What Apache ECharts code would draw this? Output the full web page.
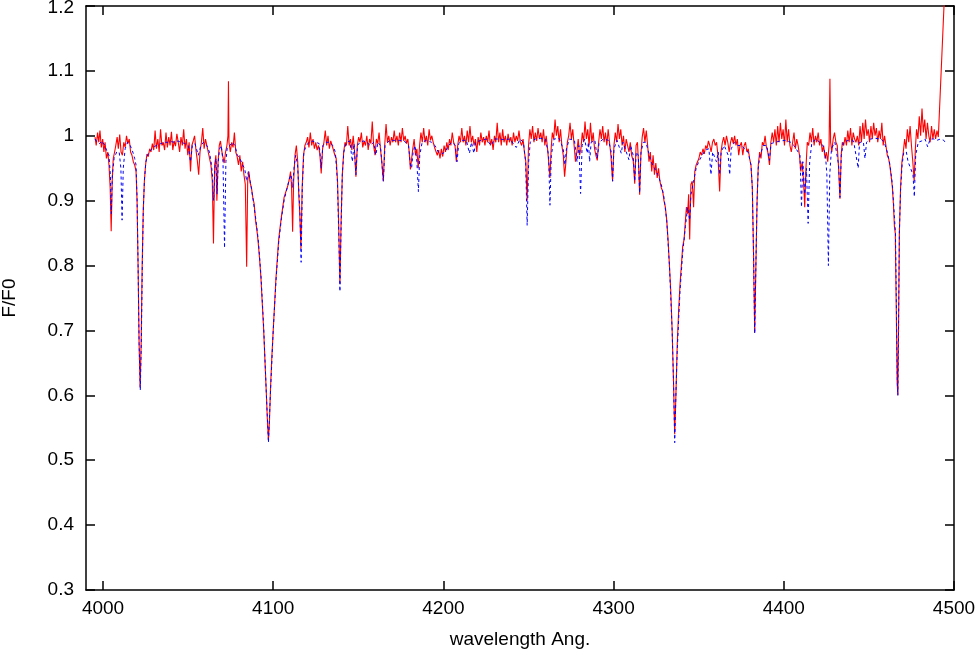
<!DOCTYPE html>
<html>
<head>
<meta charset="utf-8">
<script src="https://cdn.jsdelivr.net/npm/echarts@6/dist/echarts.min.js"></script>
<style>
  html, body { margin: 0; padding: 0; background: #fff; }
  #chart { width: 978px; height: 650px; }
</style>
</head>
<body>
<div id="chart"></div>
<script>
// 观测光谱 (红色实线) [wavelength, F/F0]
var observed = [
  [3995.3, 0.998], [3996, 0.985], [3996.8, 1.005], [3997.5, 0.99], [3998.2, 1.008], [3999, 0.982], [3999.8, 0.995],
  [4000.5, 0.975], [4001.2, 0.99], [4002, 0.965], [4002.8, 0.975], [4003.5, 0.955], [4004.2, 0.92], [4004.8, 0.853],
  [4005.4, 0.93], [4006, 0.965], [4006.8, 0.975], [4007.5, 0.985], [4008.3, 0.998], [4009, 0.98], [4009.8, 1.002],
  [4010.6, 0.975], [4011.4, 0.97], [4012.2, 0.99], [4013, 0.982], [4013.8, 1.0], [4014.6, 0.988], [4015.4, 0.995],
  [4016.2, 0.975], [4017, 0.97], [4017.8, 0.96], [4018.6, 0.955], [4019.4, 0.945], [4020, 0.9], [4020.6, 0.8],
  [4021.2, 0.68], [4021.8, 0.612], [4022.4, 0.68], [4023, 0.8], [4023.6, 0.88], [4024.3, 0.93], [4025, 0.955],
  [4025.8, 0.972], [4026.6, 0.968], [4027.4, 0.98], [4028.2, 0.975], [4029, 0.988], [4029.8, 0.978], [4030.6, 1.008],
  [4031.4, 0.98], [4032.2, 0.995], [4033, 0.975], [4033.8, 1.01], [4034.6, 0.985], [4035.4, 0.99], [4036.2, 0.978],
  [4037, 1.005], [4037.8, 0.982], [4038.6, 0.998], [4039.4, 0.985], [4040.2, 1.006], [4041, 0.978], [4041.8, 0.992],
  [4042.6, 0.984], [4043.4, 1.003], [4044.2, 0.99], [4045, 0.975], [4045.8, 0.998], [4046.6, 0.985], [4047.4, 1.01],
  [4048.2, 0.98], [4049, 0.995], [4049.8, 0.97], [4050.6, 0.99], [4051.4, 0.945], [4052.2, 0.985], [4053, 0.992],
  [4053.8, 1.0], [4054.6, 0.978], [4055.4, 0.962], [4056.2, 0.94], [4057, 0.975], [4057.8, 0.99], [4058.6, 1.012],
  [4059.4, 0.98], [4060.2, 0.995], [4061, 0.985], [4061.8, 0.975], [4062.6, 0.965], [4063.4, 0.955], [4064.2, 0.93],
  [4064.9, 0.834], [4065.6, 0.955], [4066.3, 0.97], [4066.9, 0.9], [4067.6, 0.96], [4068.3, 0.985], [4069, 0.992],
  [4069.7, 0.978], [4070.4, 0.968], [4071.2, 0.958], [4072, 0.975], [4072.8, 0.985], [4073.4, 1.0], [4073.7, 1.084],
  [4074, 0.99], [4074.8, 0.975], [4075.6, 0.99], [4076.4, 0.982], [4077.2, 1.005], [4078, 0.975], [4078.8, 0.968],
  [4079.6, 0.955], [4080.4, 0.97], [4081.2, 0.945], [4082, 0.96], [4082.8, 0.94], [4083.6, 0.925], [4084.4, 0.798],
  [4085, 0.93], [4085.7, 0.945], [4086.4, 0.928], [4087.2, 0.92], [4088, 0.905], [4088.8, 0.895], [4089.6, 0.87],
  [4090.4, 0.855], [4091.2, 0.835], [4092, 0.81], [4092.8, 0.78], [4093.6, 0.74], [4094.4, 0.7], [4095.2, 0.65],
  [4096, 0.6], [4096.6, 0.56], [4097.2, 0.531], [4097.8, 0.56], [4098.4, 0.61], [4099.2, 0.66], [4100, 0.7],
  [4100.8, 0.74], [4101.6, 0.78], [4102.4, 0.81], [4103.2, 0.84], [4104, 0.858], [4104.8, 0.875], [4105.6, 0.89],
  [4106.4, 0.905], [4107.2, 0.912], [4108, 0.918], [4108.8, 0.925], [4109.6, 0.935], [4110.2, 0.945], [4110.8, 0.92],
  [4111.4, 0.852], [4112, 0.93], [4112.8, 0.97], [4113.6, 0.985], [4114.4, 0.96], [4115, 0.91], [4115.6, 0.88],
  [4116.3, 0.826], [4117, 0.92], [4117.8, 0.97], [4118.6, 0.985], [4119.4, 0.99], [4120.2, 0.998], [4121, 0.982],
  [4121.8, 1.005], [4122.6, 0.985], [4123.4, 0.995], [4124.2, 0.98], [4125, 0.99], [4125.8, 0.978], [4126.6, 0.985],
  [4127.4, 0.972], [4128.2, 0.942], [4129, 0.98], [4129.8, 0.99], [4130.6, 1.008], [4131.4, 0.985], [4132.2, 1.0],
  [4133, 0.98], [4133.8, 0.992], [4134.6, 0.985], [4135.4, 0.978], [4136.2, 0.97], [4137, 0.965], [4137.8, 0.93],
  [4138.5, 0.86], [4139.2, 0.772], [4139.9, 0.87], [4140.6, 0.94], [4141.4, 0.975], [4142.2, 0.99], [4143, 0.985],
  [4143.8, 1.015], [4144.6, 0.985], [4145.4, 0.995], [4146.2, 0.978], [4147, 1.0], [4147.8, 0.975], [4148.6, 0.937],
  [4149.4, 0.985], [4150.2, 0.998], [4151, 0.99], [4151.8, 1.005], [4152.6, 0.982], [4153.4, 0.992], [4154.2, 0.985],
  [4155, 1.0], [4155.8, 0.978], [4156.6, 0.995], [4157.4, 0.988], [4158.2, 1.022], [4159, 0.985], [4159.8, 0.97],
  [4160.6, 0.995], [4161.4, 0.988], [4162.2, 1.005], [4163, 0.98], [4163.8, 0.96], [4164.7, 0.93], [4165.5, 0.985],
  [4166.3, 1.018], [4167.1, 0.99], [4167.9, 1.0], [4168.7, 0.985], [4169.5, 0.998], [4170.3, 0.99], [4171.1, 1.008],
  [4171.9, 0.99], [4172.7, 1.0], [4173.5, 0.985], [4174.3, 1.005], [4175.1, 0.99], [4175.9, 1.012], [4176.7, 0.992],
  [4177.5, 1.0], [4178.3, 0.988], [4179.1, 0.995], [4179.9, 0.975], [4180.6, 0.948], [4181.3, 0.945], [4182, 0.98],
  [4182.8, 0.995], [4183.6, 0.97], [4184.4, 0.98], [4185.2, 0.95], [4186, 0.985], [4186.8, 1.005], [4187.6, 0.99],
  [4188.4, 1.012], [4189.2, 0.99], [4190, 1.0], [4190.8, 0.985], [4191.6, 1.01], [4192.4, 0.993], [4193.2, 1.0],
  [4194, 0.99], [4194.8, 0.982], [4195.6, 0.985], [4196.4, 0.97], [4197.2, 0.978], [4198, 0.965], [4198.8, 0.98],
  [4199.6, 0.968], [4200.4, 0.985], [4201.2, 0.975], [4202, 0.99], [4202.8, 0.978], [4203.6, 0.995], [4204.4, 0.985],
  [4205.2, 1.005], [4206, 0.99], [4206.8, 0.985], [4207.6, 0.96], [4208.4, 0.985], [4209.2, 1.0], [4210, 0.99],
  [4210.8, 1.012], [4211.6, 0.99], [4212.4, 1.0], [4213.2, 0.985], [4214, 1.008], [4214.8, 0.99], [4215.6, 1.015],
  [4216.4, 0.99], [4217.2, 1.0], [4218, 0.985], [4218.8, 0.995], [4219.6, 0.975], [4220.4, 0.998], [4221.2, 0.985],
  [4222, 1.005], [4222.8, 0.99], [4223.6, 0.998], [4224.4, 0.985], [4225.2, 1.0], [4226, 0.99], [4226.8, 1.008],
  [4227.6, 0.985], [4228.4, 0.995], [4229.2, 0.978], [4230, 1.0], [4230.8, 0.99], [4231.6, 1.02], [4232.4, 0.99],
  [4233.2, 1.005], [4234, 0.985], [4234.8, 1.01], [4235.6, 0.99], [4236.4, 1.0], [4237.2, 0.985], [4238, 1.003],
  [4238.8, 0.99], [4239.6, 0.998], [4240.4, 0.985], [4241.2, 1.005], [4242, 0.99], [4242.8, 1.0], [4243.6, 0.992],
  [4244.4, 1.008], [4245.2, 0.99], [4246, 0.985], [4246.8, 0.995], [4247.6, 0.975], [4248.4, 0.96], [4249.2, 0.9],
  [4250, 0.985], [4250.8, 1.01], [4251.6, 0.995], [4252.4, 1.015], [4253.2, 0.99], [4254, 1.005], [4254.8, 0.992],
  [4255.6, 1.012], [4256.4, 0.995], [4257.2, 1.005], [4258, 0.99], [4258.8, 1.01], [4259.6, 0.985], [4260.4, 1.0],
  [4261.2, 0.98], [4262, 0.955], [4262.6, 0.935], [4263.3, 0.98], [4264, 1.005], [4264.8, 0.995], [4265.6, 1.025],
  [4266.4, 1.0], [4267.2, 1.015], [4268, 0.99], [4268.8, 1.01], [4269.6, 0.985], [4270.4, 0.97], [4271.2, 0.937],
  [4272, 0.96], [4272.8, 0.99], [4273.6, 1.0], [4274.4, 1.02], [4275.2, 0.995], [4276, 1.01], [4276.8, 0.985],
  [4277.6, 0.96], [4278.4, 0.975], [4279.2, 0.995], [4280, 0.97], [4280.8, 0.98], [4281.6, 1.005], [4282.4, 0.99],
  [4283.2, 1.022], [4284, 0.995], [4284.8, 1.01], [4285.6, 0.985], [4286.4, 1.02], [4287.2, 0.99], [4288, 1.005],
  [4288.8, 0.98], [4289.6, 0.97], [4290.4, 0.962], [4291.2, 0.99], [4292, 1.01], [4292.8, 0.995], [4293.6, 1.015],
  [4294.4, 0.99], [4295.2, 1.005], [4296, 0.985], [4296.8, 1.01], [4297.6, 0.99], [4298.4, 0.97], [4299.4, 0.93],
  [4300.2, 0.985], [4301, 1.005], [4301.8, 0.99], [4302.6, 1.018], [4303.4, 0.995], [4304.2, 1.01], [4305, 0.985],
  [4305.8, 1.0], [4306.6, 0.975], [4307.4, 0.995], [4308.2, 0.985], [4309, 0.975], [4309.8, 0.99], [4310.6, 0.97],
  [4311.6, 0.96], [4312.4, 0.926], [4313.2, 0.985], [4314, 0.99], [4314.6, 0.96], [4315.3, 0.909], [4316, 0.97],
  [4316.8, 0.998], [4317.6, 1.012], [4318.4, 0.99], [4319.2, 1.008], [4320, 0.985], [4320.8, 0.96], [4321.6, 0.975],
  [4322.4, 0.945], [4323.2, 0.97], [4324, 0.94], [4324.8, 0.958], [4325.6, 0.935], [4326.4, 0.95], [4327.2, 0.93],
  [4328, 0.92], [4328.8, 0.915], [4329.6, 0.9], [4330.4, 0.89], [4331.2, 0.87], [4332, 0.84], [4332.8, 0.8],
  [4333.6, 0.76], [4334.4, 0.7], [4335.2, 0.62], [4335.9, 0.54], [4336.6, 0.6], [4337.4, 0.68], [4338.2, 0.73],
  [4339, 0.77], [4339.8, 0.8], [4340.6, 0.83], [4341.4, 0.84], [4342.2, 0.87], [4342.8, 0.89], [4343.5, 0.88],
  [4344.1, 0.91], [4344.7, 0.84], [4345.4, 0.925], [4346.2, 0.93], [4347, 0.89], [4347.7, 0.945], [4348.5, 0.955],
  [4349.3, 0.96], [4350.1, 0.965], [4350.9, 0.975], [4351.7, 0.97], [4352.5, 0.98], [4353.3, 0.972], [4354.1, 0.985],
  [4354.9, 0.98], [4355.7, 0.992], [4356.5, 0.985], [4357.3, 0.975], [4358.1, 0.99], [4358.9, 0.995], [4359.7, 0.985],
  [4360.5, 0.99], [4361.3, 0.97], [4362.3, 0.914], [4363.1, 0.975], [4363.9, 0.99], [4364.7, 0.998], [4365.5, 0.985],
  [4366.3, 1.0], [4367.1, 0.99], [4367.9, 0.975], [4368.7, 0.99], [4369.5, 0.998], [4370.3, 0.988], [4371.1, 1.0],
  [4371.9, 0.985], [4372.7, 0.995], [4373.5, 0.97], [4374.3, 0.985], [4375.1, 0.99], [4375.9, 0.97], [4376.7, 0.985],
  [4377.5, 0.99], [4378.3, 0.975], [4379.1, 0.98], [4379.9, 0.965], [4380.7, 0.955], [4381.5, 0.92], [4382.2, 0.82],
  [4382.9, 0.697], [4383.6, 0.8], [4384.3, 0.9], [4385, 0.955], [4385.8, 0.975], [4386.6, 0.965], [4387.4, 0.99],
  [4388.2, 0.985], [4389, 1.0], [4389.8, 0.982], [4390.6, 0.975], [4391.6, 0.955], [4392.4, 0.99], [4393.2, 1.005],
  [4394, 0.99], [4394.8, 1.01], [4395.6, 0.985], [4396.4, 1.015], [4397.2, 0.99], [4398, 1.02], [4398.8, 0.995],
  [4399.6, 1.01], [4400.4, 0.985], [4401.2, 1.025], [4402, 0.99], [4402.8, 1.01], [4403.6, 0.985], [4404.4, 0.975],
  [4405.2, 0.99], [4406, 1.005], [4406.8, 0.98], [4407.6, 0.995], [4408.4, 0.985], [4409.2, 0.97], [4410, 0.945],
  [4410.8, 0.96], [4411.6, 0.93], [4412.3, 0.89], [4413, 0.95], [4413.8, 0.99], [4414.6, 0.985], [4415.4, 1.005],
  [4416.2, 0.99], [4417, 1.012], [4417.8, 0.985], [4418.6, 1.0], [4419.4, 0.99], [4420.2, 1.005], [4421, 0.985],
  [4421.8, 0.995], [4422.6, 0.975], [4423.4, 0.985], [4424.2, 0.965], [4425, 0.975], [4425.8, 0.96], [4426.6, 0.985],
  [4427.1, 1.088], [4427.5, 0.99], [4428.2, 0.975], [4429, 0.995], [4429.8, 1.005], [4430.6, 0.99], [4431.4, 0.985],
  [4432.2, 0.95], [4433, 0.903], [4433.7, 0.97], [4434.4, 0.99], [4435.2, 0.985], [4436, 0.998], [4436.8, 0.985],
  [4437.6, 1.008], [4438.4, 0.99], [4439.2, 1.012], [4440, 0.985], [4440.8, 1.005], [4441.6, 0.995], [4442.4, 0.99],
  [4443.2, 1.0], [4444, 0.985], [4444.8, 1.015], [4445.6, 0.99], [4446.4, 1.02], [4447.2, 0.995], [4448, 1.025],
  [4448.8, 1.0], [4449.6, 1.01], [4450.4, 0.99], [4451.2, 1.015], [4452, 0.995], [4452.8, 1.02], [4453.6, 1.0],
  [4454.4, 1.012], [4455.2, 0.99], [4456, 1.008], [4456.8, 0.995], [4457.6, 1.02], [4458.4, 0.985], [4459.2, 1.0],
  [4460, 0.985], [4460.8, 0.97], [4461.6, 0.965], [4462.4, 0.952], [4463.2, 0.935], [4463.8, 0.92], [4464.4, 0.895],
  [4465, 0.86], [4465.5, 0.85], [4466, 0.75], [4466.6, 0.62], [4467, 0.6], [4467.4, 0.7], [4467.9, 0.85],
  [4468.6, 0.92], [4469.4, 0.96], [4470.2, 0.975], [4471, 0.995], [4471.8, 0.98], [4472.6, 1.01], [4473.4, 0.99],
  [4474.2, 1.015], [4475, 0.985], [4475.8, 0.96], [4476.6, 0.93], [4477.3, 0.98], [4478, 1.01], [4478.8, 0.995],
  [4479.6, 1.03], [4480.4, 1.0], [4481.2, 1.042], [4482, 1.005], [4482.8, 1.025], [4483.6, 0.995], [4484.4, 1.02],
  [4485.2, 1.0], [4486, 0.99], [4486.8, 1.015], [4487.6, 0.995], [4488.4, 1.01], [4489.2, 0.995], [4490, 1.008],
  [4490.8, 0.998], [4495.5, 1.284]
];

// 模型光谱 (蓝色虚线)
var model = [
  [3995.3, 0.995], [3996.5, 0.99], [3998, 0.988], [3999.5, 0.992], [4001, 0.985], [4002.5, 0.975], [4003.5, 0.97],
  [4004.3, 0.94], [4004.9, 0.88], [4005.5, 0.94], [4006.5, 0.965], [4008, 0.975], [4009.5, 0.975], [4010.5, 0.95],
  [4011.2, 0.87], [4011.9, 0.95], [4013, 0.98], [4014.5, 0.99], [4016, 0.985], [4017.5, 0.975], [4018.6, 0.965],
  [4019.4, 0.955], [4020, 0.905], [4020.6, 0.8], [4021.2, 0.68], [4021.9, 0.608], [4022.5, 0.68], [4023.1, 0.8],
  [4023.7, 0.89], [4024.4, 0.935], [4025.2, 0.96], [4026.5, 0.972], [4028, 0.978], [4030, 0.983], [4032, 0.986],
  [4034, 0.988], [4036, 0.99], [4038, 0.99], [4040, 0.991], [4042, 0.99], [4044, 0.992], [4046, 0.99], [4048, 0.988],
  [4050, 0.985], [4051.4, 0.96], [4052.5, 0.985], [4054, 0.988], [4056, 0.97], [4057.5, 0.985], [4059, 0.99],
  [4061, 0.985], [4062.5, 0.975], [4063.5, 0.96], [4064.3, 0.94], [4065, 0.9], [4065.7, 0.95], [4066.4, 0.965],
  [4067, 0.91], [4067.7, 0.96], [4068.5, 0.98], [4069.5, 0.985], [4070.5, 0.96], [4071.4, 0.827], [4072.2, 0.96],
  [4073, 0.982], [4074.5, 0.985], [4076, 0.99], [4077.5, 0.985], [4079, 0.97], [4080.5, 0.965], [4082, 0.955],
  [4083.2, 0.95], [4084.4, 0.93], [4085.4, 0.945], [4086.5, 0.93], [4088, 0.905], [4089.6, 0.875], [4091.2, 0.84],
  [4092.8, 0.785], [4094.4, 0.705], [4096, 0.6], [4097.2, 0.527], [4098.4, 0.605], [4100, 0.7], [4101.6, 0.775],
  [4103.2, 0.835], [4104.8, 0.872], [4106.4, 0.9], [4108, 0.918], [4109.6, 0.935], [4110.5, 0.94], [4111.4, 0.92],
  [4112.2, 0.95], [4113.2, 0.97], [4114.3, 0.955], [4115, 0.92], [4115.7, 0.88], [4116.4, 0.805], [4117.1, 0.92],
  [4118, 0.975], [4119.5, 0.985], [4121, 0.99], [4123, 0.992], [4125, 0.99], [4127, 0.988], [4128.2, 0.95],
  [4129.2, 0.985], [4131, 0.99], [4133, 0.99], [4135, 0.985], [4136.5, 0.975], [4137.7, 0.93], [4138.5, 0.85],
  [4139.2, 0.76], [4139.9, 0.86], [4140.6, 0.94], [4141.5, 0.975], [4143, 0.99], [4145, 0.992], [4146.5, 0.96],
  [4147.5, 0.988], [4148.6, 0.94], [4149.5, 0.985], [4151, 0.99], [4153, 0.992], [4155, 0.99], [4157, 0.985],
  [4159, 0.99], [4160.3, 0.97], [4161.5, 0.99], [4163, 0.985], [4164.7, 0.93], [4165.7, 0.985], [4168, 0.992],
  [4171, 0.993], [4174, 0.993], [4177, 0.992], [4179.5, 0.985], [4180.6, 0.955], [4181.3, 0.95], [4182.2, 0.975],
  [4183.3, 0.985], [4184.4, 0.96], [4185.3, 0.914], [4186.1, 0.97], [4187.5, 0.99], [4190, 0.993], [4193, 0.99],
  [4195, 0.985], [4197, 0.975], [4199, 0.972], [4201, 0.975], [4203, 0.985], [4205, 0.99], [4207, 0.985],
  [4208, 0.96], [4209, 0.988], [4211, 0.993], [4213.5, 0.993], [4215.3, 0.973], [4216.5, 0.99], [4217.9, 0.973],
  [4219, 0.99], [4222, 0.993], [4225, 0.995], [4228.1, 0.985], [4230, 0.995], [4233, 0.995], [4236, 0.994],
  [4239, 0.995], [4242.8, 0.982], [4245, 0.995], [4247, 0.99], [4248.3, 0.96], [4249.2, 0.862], [4250.1, 0.96],
  [4251, 0.99], [4254, 0.995], [4257, 0.996], [4260, 0.995], [4261.8, 0.97], [4262.6, 0.893], [4263.4, 0.97],
  [4265, 0.995], [4268, 0.996], [4270.4, 0.98], [4271.4, 0.955], [4272.3, 0.98], [4274, 0.995], [4277, 0.993],
  [4278.5, 0.96], [4279.6, 0.985], [4280.6, 0.911], [4281.5, 0.985], [4283, 0.995], [4284.5, 0.973], [4285.2, 0.99],
  [4285.9, 0.96], [4286.8, 0.99], [4289, 0.993], [4290.4, 0.965], [4291.5, 0.99], [4294, 0.995], [4297, 0.993],
  [4298.6, 0.975], [4299.4, 0.93], [4300.2, 0.98], [4302, 0.993], [4304.5, 0.973], [4305.5, 0.99], [4309, 0.963],
  [4310, 0.985], [4311.5, 0.97], [4312.4, 0.93], [4313.3, 0.975], [4314.5, 0.97], [4315.3, 0.912], [4316.1, 0.975],
  [4317.5, 0.99], [4319, 0.99], [4320.5, 0.975], [4322, 0.96], [4324, 0.95], [4326, 0.94], [4328, 0.925],
  [4329.6, 0.905], [4331.2, 0.87], [4332.8, 0.8], [4334.4, 0.7], [4335.2, 0.62], [4335.9, 0.527], [4336.6, 0.6],
  [4337.4, 0.67], [4339, 0.76], [4340.6, 0.82], [4342.2, 0.86], [4343.5, 0.89], [4344.7, 0.87], [4345.5, 0.91],
  [4347, 0.93], [4348.5, 0.95], [4350, 0.96], [4352, 0.97], [4354, 0.978], [4356, 0.98], [4357.2, 0.94],
  [4358.2, 0.975], [4360.4, 0.96], [4361.5, 0.975], [4362.3, 0.94], [4363.2, 0.975], [4365, 0.985], [4367.3, 0.97],
  [4368.2, 0.94], [4369.1, 0.98], [4371, 0.99], [4373, 0.985], [4375, 0.985], [4377, 0.98], [4379, 0.975],
  [4380.7, 0.955], [4381.5, 0.92], [4382.2, 0.82], [4382.9, 0.695], [4383.6, 0.8], [4384.3, 0.9], [4385, 0.95],
  [4386, 0.97], [4388, 0.985], [4390, 0.985], [4391.6, 0.962], [4392.5, 0.988], [4395, 0.99], [4398, 0.992],
  [4401, 0.993], [4404, 0.99], [4406, 0.985], [4408.4, 0.975], [4409.5, 0.97], [4410.4, 0.89], [4411.2, 0.96],
  [4412.3, 0.91], [4413.3, 0.95], [4414.3, 0.865], [4415.2, 0.96], [4416.5, 0.99], [4419, 0.995], [4421, 0.99],
  [4423, 0.985], [4424.5, 0.97], [4425.3, 0.94], [4426.2, 0.8], [4427, 0.94], [4428, 0.98], [4430, 0.99],
  [4432.2, 0.955], [4433, 0.905], [4433.8, 0.97], [4435, 0.99], [4438, 0.993], [4441, 0.992], [4443.7, 0.95],
  [4444.5, 0.99], [4446.8, 0.99], [4447.7, 0.965], [4448.6, 0.99], [4451, 0.995], [4454, 0.996], [4457, 0.995],
  [4459, 0.99], [4460.8, 0.975], [4462.4, 0.955], [4463.8, 0.925], [4465, 0.875], [4465.6, 0.85], [4466.1, 0.75],
  [4466.7, 0.62], [4467, 0.6], [4467.4, 0.7], [4467.9, 0.85], [4468.6, 0.915], [4469.5, 0.955], [4470.5, 0.975],
  [4472, 0.975], [4473, 0.96], [4474.5, 0.95], [4475.9, 0.94], [4476.7, 0.906], [4477.5, 0.97], [4479, 0.99],
  [4481, 0.992], [4483, 0.995], [4484.5, 0.983], [4486, 0.995], [4488, 0.995], [4490, 0.993], [4492, 0.995],
  [4494, 0.993], [4495.3, 0.988]
];

var xTicks = [4000, 4100, 4200, 4300, 4400, 4500];
var xRange = [3990, 4500];
var yRange = [0.3, 1.2];

var font = 'Liberation Sans';
var chart = echarts.init(document.getElementById('chart'));

function frameAxis(showLabel) {
  return {
    axisLine: { show: true, onZero: false, lineStyle: { color: '#000', width: 1.5 } },
    axisTick: { show: true, inside: true, length: 9, lineStyle: { color: '#000', width: 1.5 } },
    splitLine: { show: false },
    axisLabel: { show: showLabel, color: '#000', fontFamily: font, fontSize: 19 }
  };
}

var xBottom = frameAxis(true);
var xTop = frameAxis(false);
var yLeft = frameAxis(true);
var yRight = frameAxis(false);

chart.setOption({
  animation: false,
  backgroundColor: '#fff',
  grid: { left: 86, right: 24, top: 6, bottom: 60, outerBoundsMode: 'none', containLabel: false },
  xAxis: [
    Object.assign(xBottom, {
      type: 'value', position: 'bottom', min: xRange[0], max: xRange[1],
      name: 'wavelength Ang.', nameLocation: 'middle', nameGap: 40,
      nameTextStyle: { color: '#000', fontFamily: font, fontSize: 19 },
      axisTick: Object.assign(xBottom.axisTick, { customValues: xTicks }),
      axisLabel: Object.assign(xBottom.axisLabel, {
        customValues: xTicks, margin: 9,
        formatter: function (v) { return String(v); }
      })
    }),
    Object.assign(xTop, {
      type: 'value', position: 'top', min: xRange[0], max: xRange[1],
      axisTick: Object.assign(xTop.axisTick, { customValues: xTicks })
    })
  ],
  yAxis: [
    Object.assign(yLeft, {
      type: 'value', position: 'left', min: yRange[0], max: yRange[1], interval: 0.1,
      name: 'F/F0', nameLocation: 'middle', nameGap: 67,
      nameTextStyle: { color: '#000', fontFamily: font, fontSize: 19 },
      axisLabel: Object.assign(yLeft.axisLabel, {
        margin: 12,
        // 顶部标签稍微下移, 不被裁掉
        formatter: function (v) { return v >= yRange[1] ? '{top|' + v + '}' : String(v); },
        rich: { top: { fontFamily: font, fontSize: 19, color: '#000', padding: [4, 0, 0, 0] } }
      })
    }),
    Object.assign(yRight, {
      type: 'value', position: 'right', min: yRange[0], max: yRange[1], interval: 0.1
    })
  ],
  series: [
    {
      name: 'observed',
      type: 'line',
      data: observed,
      showSymbol: false,
      clip: true,
      lineStyle: { color: '#ff0000', width: 1.1 }
    },
    {
      name: 'model',
      type: 'line',
      data: model,
      showSymbol: false,
      clip: true,
      lineStyle: { color: '#0000ff', width: 1, type: [3, 3] }
    }
  ]
});
</script>
</body>
</html>
